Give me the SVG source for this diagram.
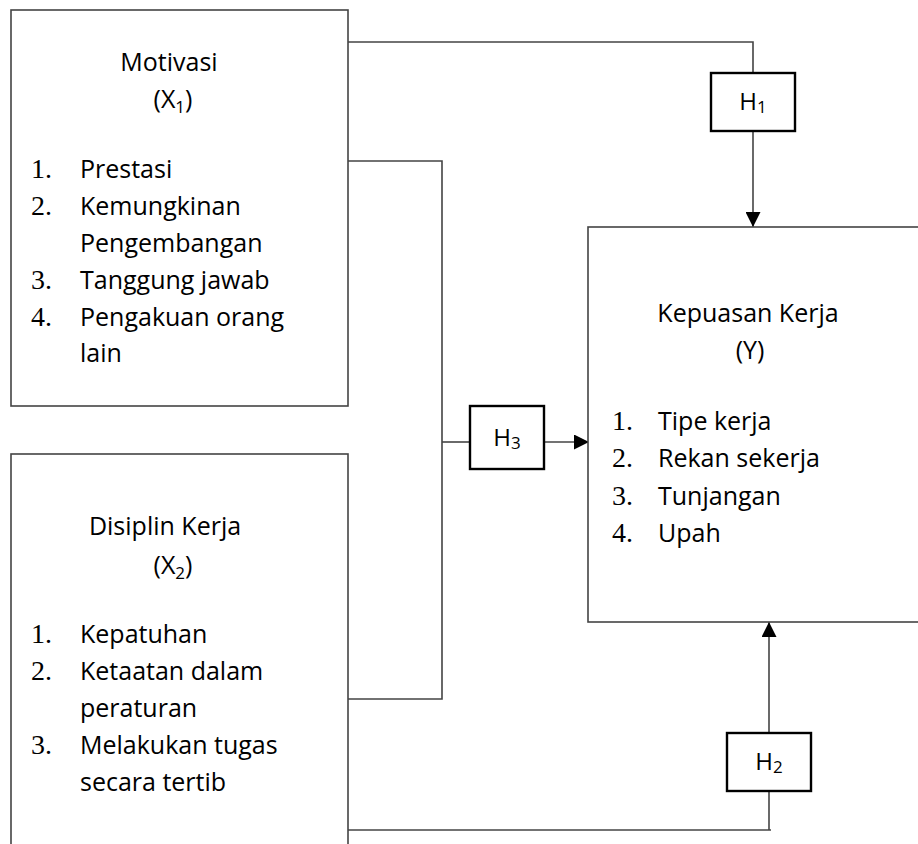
<svg xmlns="http://www.w3.org/2000/svg" width="918" height="844" viewBox="0 0 918 844">
<style>
.box{fill:#fff;stroke:#444;stroke-width:1.6}
.hbox{fill:#fff;stroke:#000;stroke-width:2.4}
.ln{fill:none;stroke:#444;stroke-width:1.6}
.t{font-family:"Open Sans","Liberation Sans",sans-serif;font-size:25px;fill:#000}
.n{font-family:"Liberation Serif","Times New Roman",serif;font-size:28px;fill:#000}
.h{font-family:"Open Sans","Liberation Sans",sans-serif;font-size:24px;fill:#000}
.sub{font-size:17px}
</style>
<defs>
<marker id="arr" viewBox="0 0 15 15" refX="15" refY="7.5" markerWidth="15" markerHeight="15" markerUnits="userSpaceOnUse" orient="auto">
<path d="M0,0 L15,7.5 L0,15 z" fill="#000"/>
</marker>
</defs>
<rect width="918" height="844" fill="#fff"/>

<g id="connectors">
<polyline class="ln" points="348,42 753,42 753,73"/>
<line class="ln" x1="753" y1="131" x2="753" y2="227" marker-end="url(#arr)"/>
<polyline class="ln" points="348,161 442,161 442,699 348,699"/>
<line class="ln" x1="442" y1="442" x2="470" y2="442"/>
<line class="ln" x1="544" y1="442" x2="589" y2="442" marker-end="url(#arr)"/>
<polyline class="ln" points="348,830 771,830"/>
<line class="ln" x1="769" y1="830" x2="769" y2="791"/>
<line class="ln" x1="769" y1="733" x2="769" y2="622" marker-end="url(#arr)"/>
</g>

<g id="x1">
<rect class="box" x="11" y="10" width="337" height="396"/>
<text class="t" x="169" y="71" text-anchor="middle">Motivasi</text>
<text class="t" x="173" y="108" text-anchor="middle">(X<tspan class="sub" dy="5">1</tspan><tspan dy="-5">)</tspan></text>
<text class="n" x="31" y="178">1.</text><text class="t" x="80" y="178">Prestasi</text>
<text class="n" x="31" y="215">2.</text><text class="t" x="80" y="215">Kemungkinan</text>
<text class="t" x="80" y="252">Pengembangan</text>
<text class="n" x="31" y="289">3.</text><text class="t" x="80" y="289">Tanggung jawab</text>
<text class="n" x="31" y="326">4.</text><text class="t" x="80" y="326">Pengakuan orang</text>
<text class="t" x="80" y="362">lain</text>
</g>

<g id="x2">
<rect class="box" x="11" y="454" width="337" height="400"/>
<text class="t" x="165" y="535" text-anchor="middle">Disiplin Kerja</text>
<text class="t" x="173" y="574" text-anchor="middle">(X<tspan class="sub" dy="5">2</tspan><tspan dy="-5">)</tspan></text>
<text class="n" x="31" y="643">1.</text><text class="t" x="80" y="643">Kepatuhan</text>
<text class="n" x="31" y="680">2.</text><text class="t" x="80" y="680">Ketaatan dalam</text>
<text class="t" x="80" y="717">peraturan</text>
<text class="n" x="31" y="754">3.</text><text class="t" x="80" y="754">Melakukan tugas</text>
<text class="t" x="80" y="791">secara tertib</text>
</g>

<g id="y">
<rect class="box" x="588" y="227" width="340" height="395"/>
<text class="t" x="748" y="322" text-anchor="middle">Kepuasan Kerja</text>
<text class="t" x="750" y="359" text-anchor="middle">(Y)</text>
<text class="n" x="612" y="430">1.</text><text class="t" x="658" y="430">Tipe kerja</text>
<text class="n" x="612" y="467">2.</text><text class="t" x="658" y="467">Rekan sekerja</text>
<text class="n" x="612" y="505">3.</text><text class="t" x="658" y="505">Tunjangan</text>
<text class="n" x="612" y="542">4.</text><text class="t" x="658" y="542">Upah</text>
</g>

<g id="h1">
<rect class="hbox" x="711" y="73" width="84" height="58"/>
<text class="h" x="753" y="110" text-anchor="middle">H<tspan class="sub" dy="3">1</tspan></text>
</g>
<g id="h3">
<rect class="hbox" x="470" y="406" width="74" height="63"/>
<text class="h" x="507" y="446" text-anchor="middle">H<tspan class="sub" dy="3">3</tspan></text>
</g>
<g id="h2">
<rect class="hbox" x="727" y="733" width="84" height="58"/>
<text class="h" x="769" y="770" text-anchor="middle">H<tspan class="sub" dy="3">2</tspan></text>
</g>
</svg>
